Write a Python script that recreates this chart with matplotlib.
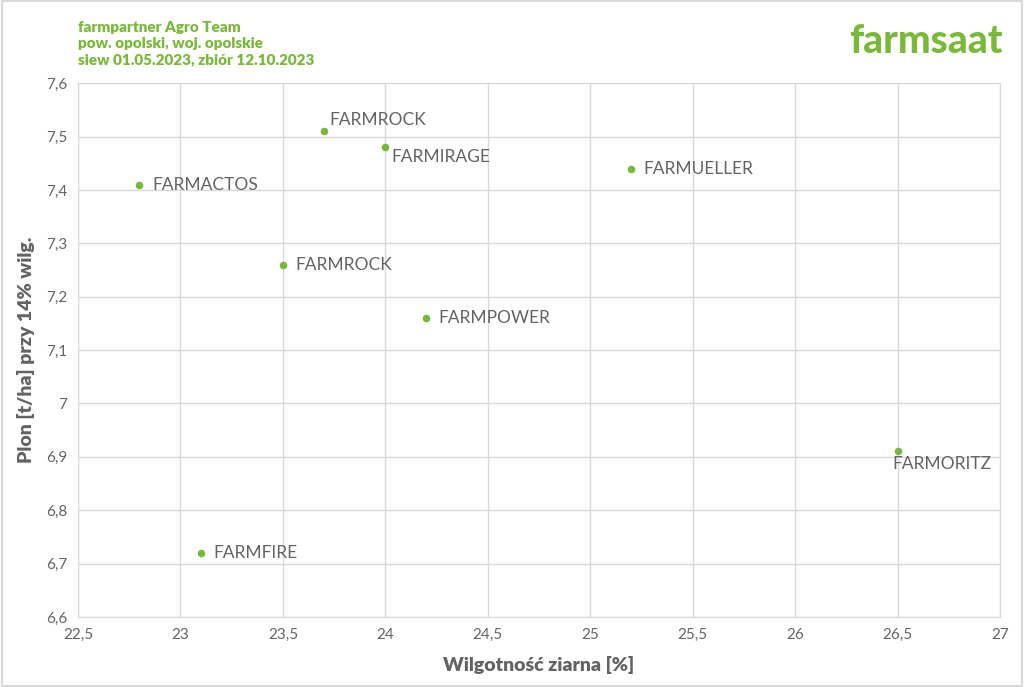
import matplotlib
matplotlib.use('Agg')
import matplotlib.pyplot as plt
from matplotlib.patches import Rectangle

varieties = ['FARMROCK', 'FARMIRAGE', 'FARMACTOS', 'FARMUELLER', 'FARMROCK',
             'FARMPOWER', 'FARMORITZ', 'FARMFIRE']
moisture = [23.7, 24.0, 22.8, 25.2, 23.5, 24.2, 26.5, 23.1]
yield_t = [7.51, 7.48, 7.41, 7.44, 7.26, 7.16, 6.91, 6.72]
# label placement: offset in points, horizontal/vertical alignment
label_pos = [((4, 2), 'left', 'bottom'), ((4, -1), 'left', 'top'),
             ((9, 0), 'left', 'center'), ((9, 0), 'left', 'center'),
             ((9, 0), 'left', 'center'), ((9, 0), 'left', 'center'),
             ((-4, -3), 'left', 'top'), ((9, 0), 'left', 'center')]

xticks = [22.5, 23, 23.5, 24, 24.5, 25, 25.5, 26, 26.5, 27]
yticks = [6.6, 6.7, 6.8, 6.9, 7.0, 7.1, 7.2, 7.3, 7.4, 7.5, 7.6]

green = '#7ab83a'
grey = '#636363'
plt.rcParams['font.family'] = ['Lato', 'DejaVu Sans']

fig = plt.figure(figsize=(10.24, 6.87), dpi=100)
fig.patches.append(Rectangle((0.002, 0.002), 0.996, 0.996, transform=fig.transFigure,
                             fill=False, edgecolor='#d9d9d9', linewidth=1.5))
ax = fig.add_axes([0.0762, 0.1019, 0.9004, 0.7771])

ax.scatter(moisture, yield_t, s=30, color=green, zorder=3, linewidths=0)
for name, x, y, (off, ha, va) in zip(varieties, moisture, yield_t, label_pos):
    ax.annotate(name, (x, y), xytext=off, textcoords='offset points',
                ha=ha, va=va, fontsize=12.5, color=grey)

ax.set_xlim(22.5, 27)
ax.set_ylim(6.6, 7.6)
ax.set_xticks(xticks)
ax.set_yticks(yticks)
fmt = lambda v: ('%g' % v).replace('.', ',')
ax.set_xticklabels([fmt(v) for v in xticks])
ax.set_yticklabels([fmt(v) for v in yticks])
ax.tick_params(length=0, labelsize=11, colors=grey, pad=8)
ax.grid(True, color='#d9d9d9', linewidth=1)
ax.set_axisbelow(True)
for s in ax.spines.values():
    s.set_color('#d9d9d9')

ax.set_xlabel('Wilgotność ziarna [%]', fontsize=14, fontweight='heavy', color=grey, labelpad=10)
ax.set_ylabel('Plon [t/ha] przy 14% wilg.', fontsize=14, fontweight='heavy', color=grey, labelpad=8)

fig.text(0.0765, 0.97, 'farmpartner Agro Team\npow. opolski, woj. opolskie\nsiew 01.05.2023, zbiór 12.10.2023',
         fontsize=11, fontweight='heavy', color=green, va='top', ha='left', linespacing=1.3)
fig.text(0.979, 0.94, 'farmsaat', fontsize=28, fontweight='black', color=green, ha='right', va='center')

fig.savefig('out.png', dpi=100)
